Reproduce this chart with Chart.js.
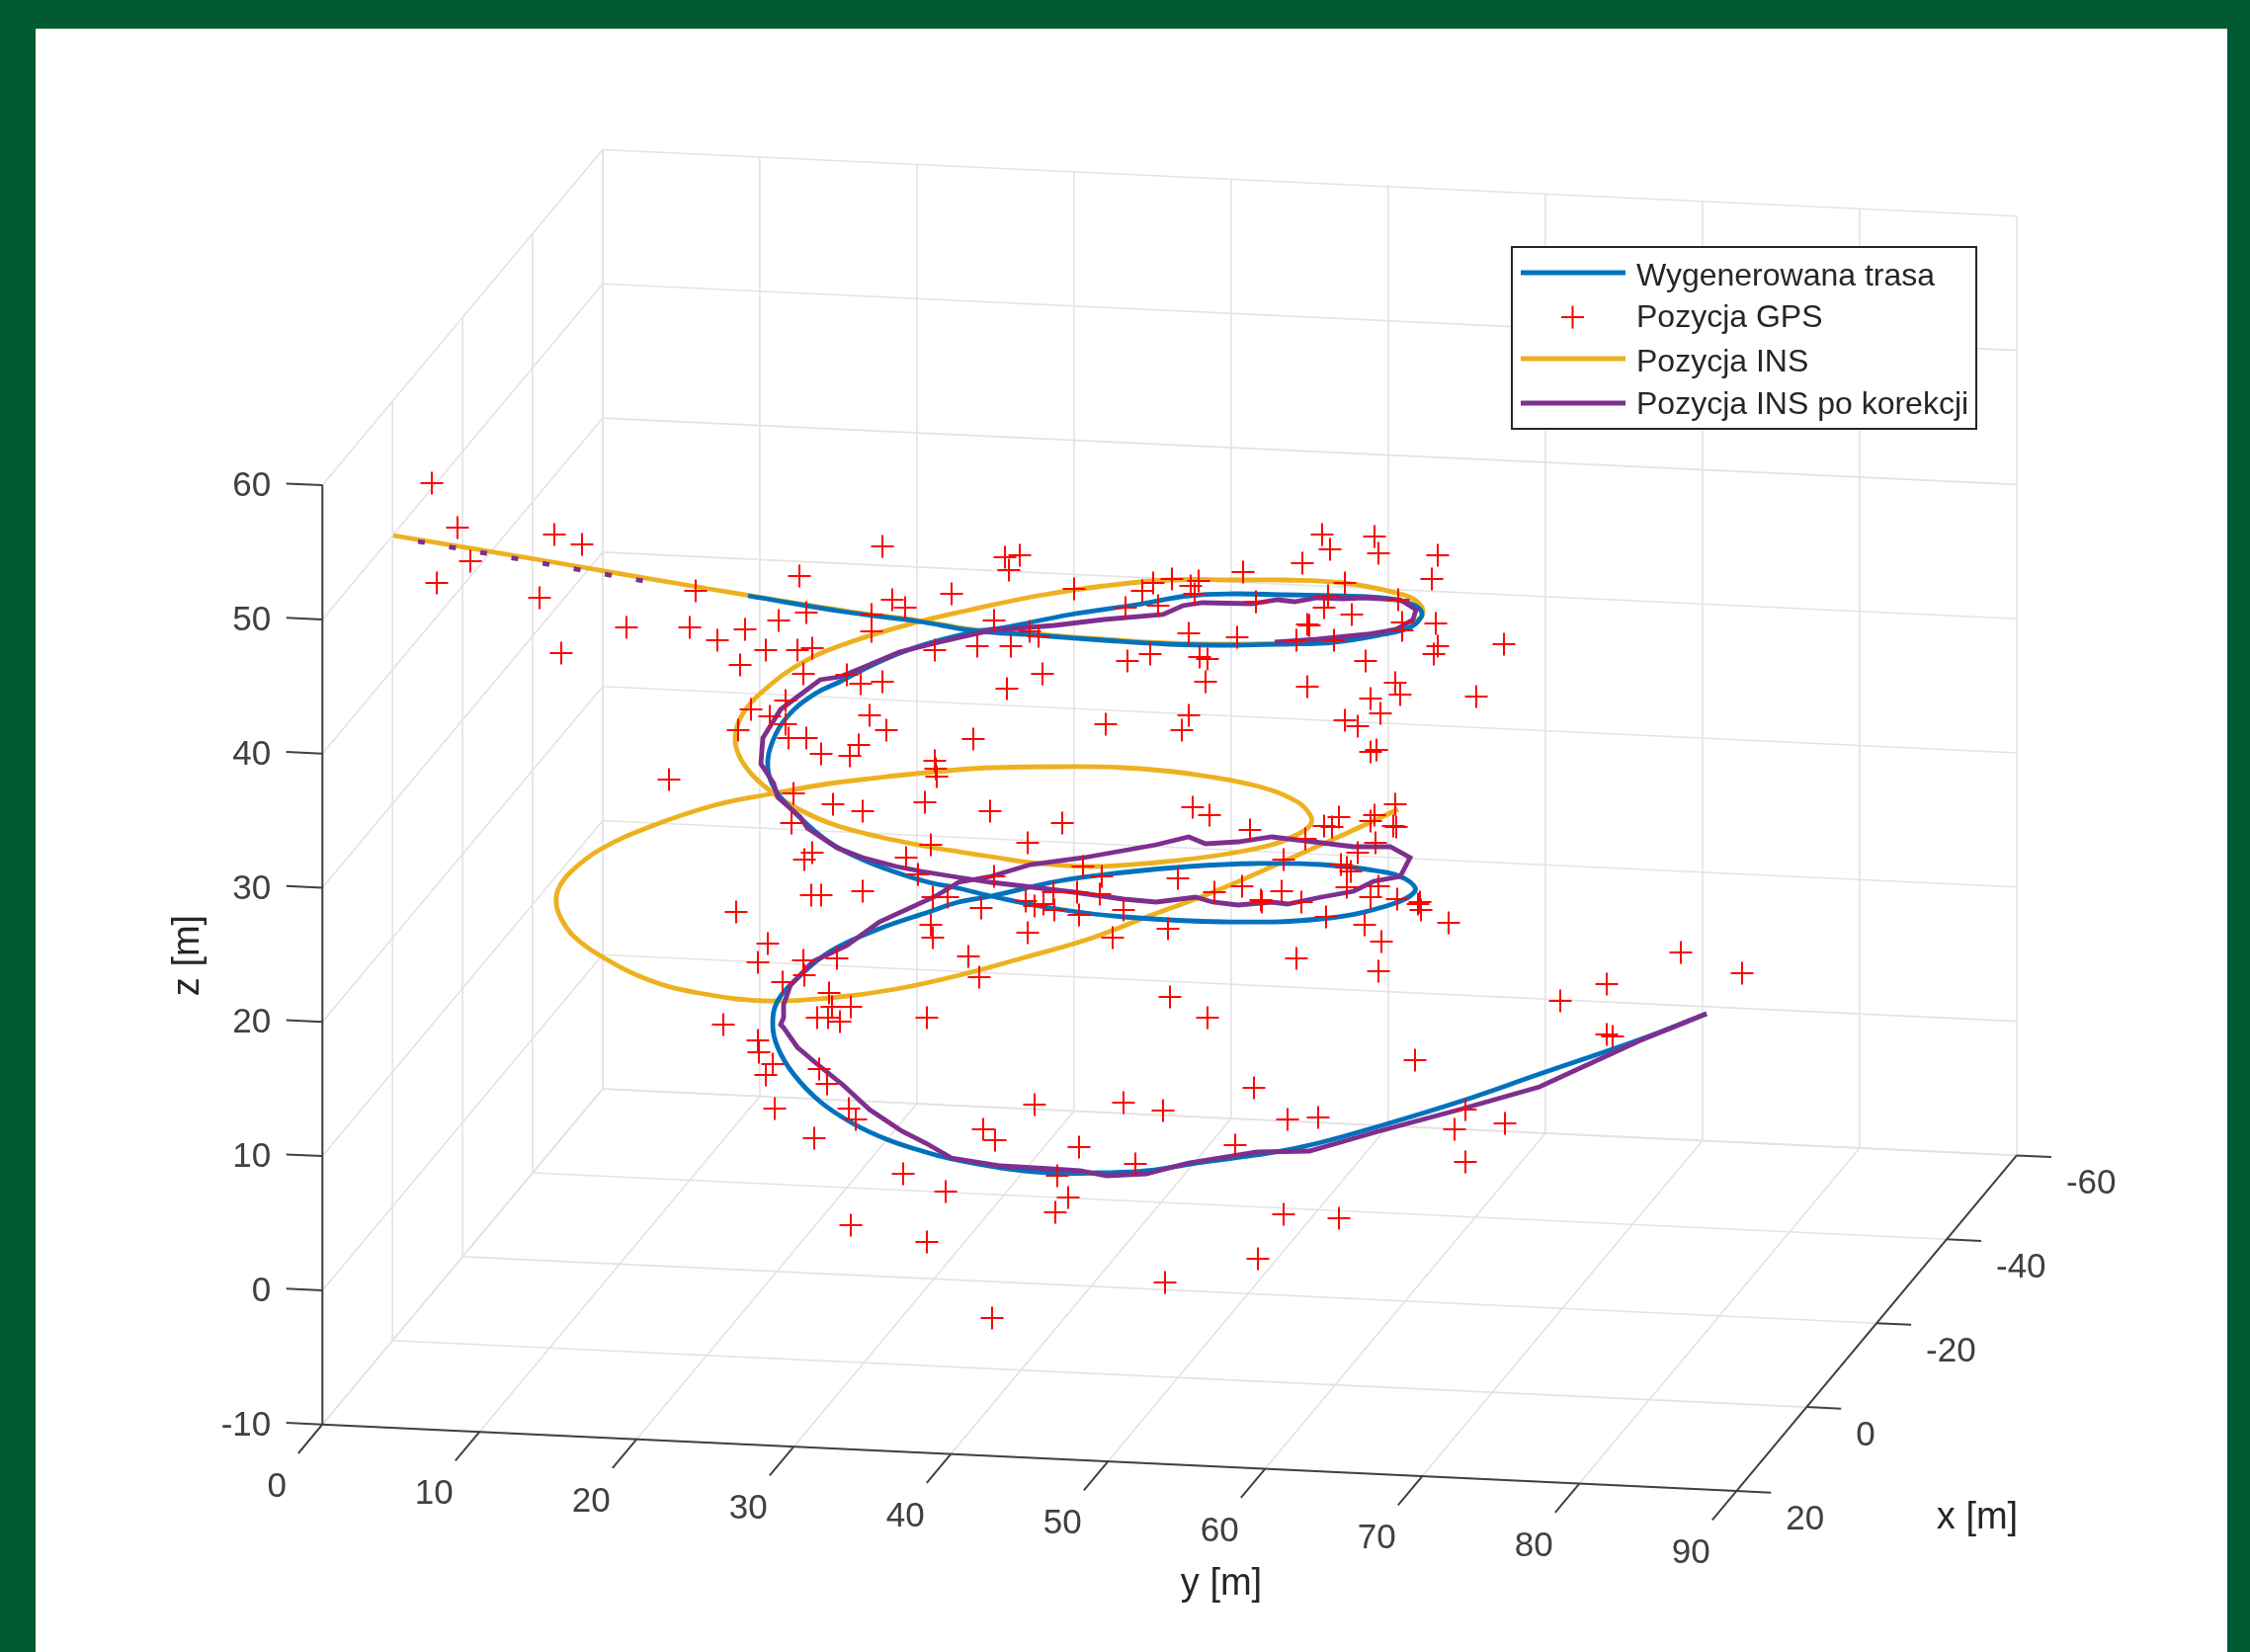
<!DOCTYPE html>
<html>
<head>
<meta charset="utf-8">
<title>Trasa 3D</title>
<script src="https://cdn.jsdelivr.net/npm/chart.js@4/dist/chart.umd.min.js"></script>
<style>
    html, body { margin: 0; padding: 0; background: #005a32; }
    canvas { display: block; }
</style>
</head>
<body>
<canvas id="chart" width="2277" height="1672"></canvas>
<script>
// tick values of the three axes, in metres
var xTicks = [-60, -40, -20, 0, 20];
var yTicks = [0, 10, 20, 30, 40, 50, 60, 70, 80, 90];
var zTicks = [-10, 0, 10, 20, 30, 40, 50, 60];

var seriesNames = ['Wygenerowana trasa', 'Pozycja GPS', 'Pozycja INS', 'Pozycja INS po korekcji'];

// traces, on the view plane of the 3D plot
var routeTrace = [
    [398,542],[560,570],[700,594],[757,603],[860,620],[930,629],[983,638],[1050,643],[1117,648],[1183,652],
    [1250,653],[1300,652],[1350,650],[1400,642],[1427,635],[1438,625],[1438,618],[1430,612],[1413,607],[1383,604],
    [1350,603],[1300,602],[1250,601],[1203,603],[1150,612],[1083,622],[1017,635],[983,640],[927,655],[883,673],
    [850,690],[825,702],[797,725],[782,750],[777,777],[785,800],[807,825],[840,853],[873,870],[907,883],
    [940,893],[970,899],[1003,907],[1070,920],[1137,928],[1237,933],[1337,930],[1403,917],[1432,902],[1423,890],
    [1397,882],[1337,875],[1270,874],[1203,877],[1137,883],[1070,892],[1003,907],[970,913],[940,923],[890,940],
    [840,963],[807,990],[787,1013],[782,1037],[787,1060],[803,1087],[830,1115],[863,1137],[897,1153],[930,1164],
    [963,1173],[1013,1182],[1063,1187],[1113,1187],[1160,1185],[1211,1177],[1285,1167],[1334,1157],[1395,1140],
    [1477,1115],[1558,1087],[1660,1052],[1727,1026]
];
var insTrace = [
    [398,542],[560,569],[700,593],[860,619],[930,628],[983,637],[1050,642],[1117,647],[1183,651],[1250,652],
    [1300,651],[1350,649],[1400,640],[1430,630],[1440,620],[1433,608],[1413,600],[1360,590],[1300,587],[1250,587],
    [1183,587],[1117,593],[1050,603],[983,617],[927,630],[860,650],[813,670],[775,697],[752,722],[744,745],
    [748,765],[762,785],[783,803],[810,820],[845,835],[890,847],[940,857],[970,862],[1003,867],[1043,873],
    [1103,877],[1170,873],[1237,865],[1287,855],[1312,845],[1326,835],[1326,825],[1312,811],[1270,795],[1203,783],
    [1137,777],[1070,776],[1003,777],[970,779],[907,785],[840,793],[783,803],[723,815],[657,837],[607,860],
    [577,883],[565,900],[563,915],[568,930],[580,947],[607,967],[657,992],[707,1005],[773,1013],[840,1010],
    [907,1001],[975,986],[1037,969],[1103,950],[1163,927],[1230,902],[1303,870],[1370,840],[1415,819]
];
var correctedTrace = [
    [398,542],[423,548],[663,590],[700,596],[860,620],[983,638],[1183,651],[1290,650],[1333,647],[1383,642],
    [1413,637],[1430,627],[1433,617],[1417,607],[1380,605],[1360,606],[1333,605],[1310,609],[1293,607],[1267,611],
    [1217,610],[1197,613],[1177,622],[1117,627],[1067,633],[1003,638],[950,650],[910,660],[870,677],[850,685],
    [830,688],[810,703],[790,718],[772,747],[770,773],[783,793],[787,807],[810,827],[817,838],[847,858],
    [873,868],[907,877],[933,882],[970,888],[1003,893],[1037,897],[1087,903],[1137,910],[1170,913],[1210,908],
    [1227,913],[1253,916],[1287,913],[1303,915],[1337,908],[1370,902],[1390,892],[1417,887],[1427,868],[1407,857],
    [1370,857],[1337,853],[1287,847],[1253,852],[1220,854],[1203,847],[1170,855],[1097,868],[1043,875],[1003,887],
    [970,893],[947,907],[890,933],[857,957],[823,973],[800,997],[793,1017],[793,1030],[790,1037],[793,1040],
    [807,1060],[827,1077],[853,1098],[880,1123],[913,1145],[937,1157],[963,1172],[1013,1180],[1063,1183],[1093,1185],
    [1120,1190],[1160,1188],[1203,1177],[1272,1166],[1325,1165],[1395,1145],[1477,1123],[1558,1100],[1660,1053],[1727,1026]
];
var gpsPoints = [
    [437,489],[463,534],[476,568],[442,590],[561,541],[589,551],[546,605],[568,661],[634,635],[704,598],
    [698,635],[726,648],[754,637],[788,628],[809,583],[816,620],[775,658],[749,673],[807,658],[822,656],
    [813,682],[857,683],[795,709],[760,718],[779,725],[795,733],[747,739],[798,747],[816,747],[831,763],
    [860,765],[893,553],[903,607],[916,615],[963,601],[882,622],[882,639],[1017,564],[1032,562],[1021,577],
    [1006,628],[1087,596],[1156,598],[1167,590],[1186,586],[1205,593],[1213,588],[1209,601],[1258,579],[1318,570],
    [1139,615],[1172,613],[1271,609],[1042,639],[1051,644],[1203,641],[1252,645],[1312,648],[1323,632],[946,658],
    [989,654],[1023,654],[1055,682],[1019,697],[1141,669],[1164,662],[1214,665],[1222,667],[1220,690],[1323,695],
    [871,692],[893,690],[880,724],[897,739],[985,748],[1119,733],[1203,724],[1196,739],[869,754],[946,770],
    [1338,541],[1346,556],[1391,543],[1395,560],[1455,562],[1449,586],[1361,590],[1344,603],[1340,615],[1415,607],
    [1368,622],[1325,633],[1419,630],[1419,638],[1453,631],[1350,648],[1455,654],[1451,662],[1522,652],[1382,669],
    [1412,691],[1417,703],[1387,707],[1397,722],[1494,705],[1361,729],[1374,735],[1387,761],[1393,759],[677,789],
    [803,803],[843,814],[873,821],[936,812],[947,778],[948,786],[801,833],[822,863],[814,870],[917,868],
    [942,855],[821,906],[831,906],[873,902],[929,885],[944,908],[959,908],[745,923],[942,936],[944,949],
    [777,955],[767,974],[813,972],[814,987],[847,970],[792,994],[980,968],[839,1005],[861,1019],[842,1019],
    [827,1030],[850,1034],[838,1030],[938,1030],[732,1037],[767,1053],[1002,821],[1075,833],[1040,853],[1207,817],
    [1224,825],[1265,840],[1340,836],[1355,827],[1348,837],[1391,825],[1387,831],[1412,814],[1413,837],[1410,836],
    [1321,849],[1392,853],[1374,863],[1299,870],[1357,875],[1363,878],[1367,882],[1096,877],[1006,887],[1115,887],
    [1192,889],[1363,898],[1257,897],[1229,903],[1066,903],[1090,903],[1113,905],[1297,902],[1395,897],[1387,908],
    [1414,910],[1276,911],[1277,913],[1317,913],[1342,928],[1038,912],[1047,917],[1067,921],[1056,915],[993,919],
    [1137,921],[1092,926],[1437,913],[1435,915],[1438,921],[1466,934],[1381,936],[1398,953],[1182,940],[1126,949],
    [1040,944],[991,989],[1312,970],[1395,983],[1184,1009],[1222,1030],[768,1065],[782,1077],[775,1088],[829,1082],
    [837,1097],[784,1122],[859,1122],[866,1133],[824,1152],[1047,1118],[1137,1116],[995,1143],[1007,1154],[1092,1161],
    [1149,1178],[914,1188],[957,1206],[1070,1190],[1081,1212],[1068,1227],[861,1240],[938,1257],[1004,1334],[1701,964],
    [1763,985],[1626,996],[1579,1013],[1626,1047],[1632,1049],[1432,1073],[1269,1101],[1177,1124],[1303,1133],[1334,1131],
    [1250,1159],[1483,1123],[1472,1143],[1523,1137],[1483,1176],[1299,1229],[1355,1233],[1273,1274],[1179,1298]
];

var BLUE = '#0072bd';
var ORANGE = '#edb120';
var PURPLE = '#7e2f8e';
var RED = '#ff0000';
var GRID = '#e3e3e3';
var AXIS = '#404040';
var HIDDEN = 'rgba(0,0,0,0)';

var font = '"Liberation Sans", Arial, sans-serif';

// orthographic view of the MATLAB axes box
function project(x, y, z) {
    return {
        x: 326.3 + 15.9 * y - 3.545 * (x - 20),
        y: 1441.7 + 0.748 * y + 4.245 * (x - 20) - 13.58 * (z + 10),
    };
}

function toPoints(pairs) {
    return pairs.map(function (p) { return { x: p[0], y: p[1] }; });
}

function lineSet(points, color, width, order) {
    return {
        data: points,
        showLine: true,
        borderColor: color,
        borderWidth: width,
        pointRadius: 0,
        order: order,
    };
}

var xMin = xTicks[0], xMax = xTicks[xTicks.length - 1];
var yMin = yTicks[0], yMax = yTicks[yTicks.length - 1];
var zMin = zTicks[0], zMax = zTicks[zTicks.length - 1];

var datasets = [];

// grid on the floor, the back wall and the left wall
xTicks.forEach(function (x) {
    datasets.push(lineSet([project(x, yMax, zMin), project(x, yMin, zMin), project(x, yMin, zMax)], GRID, 1.6, 20));
});
yTicks.forEach(function (y) {
    datasets.push(lineSet([project(xMax, y, zMin), project(xMin, y, zMin), project(xMin, y, zMax)], GRID, 1.6, 20));
});
zTicks.forEach(function (z) {
    datasets.push(lineSet([project(xMax, yMin, z), project(xMin, yMin, z), project(xMin, yMax, z)], GRID, 1.6, 20));
});

// axis lines and tick marks
datasets.push(lineSet([project(xMax, yMin, zMin), project(xMax, yMin, zMax)], AXIS, 2, 10));
datasets.push(lineSet([project(xMax, yMin, zMin), project(xMax, yMax, zMin)], AXIS, 2, 10));
datasets.push(lineSet([project(xMax, yMax, zMin), project(xMin, yMax, zMin)], AXIS, 2, 10));
zTicks.forEach(function (z) {
    datasets.push(lineSet([project(xMax, yMin, z), project(xMax, yMin - 2.3, z)], AXIS, 2, 10));
});
yTicks.forEach(function (y) {
    datasets.push(lineSet([project(xMax, y, zMin), project(xMax + 6.9, y, zMin)], AXIS, 2, 10));
});
xTicks.forEach(function (x) {
    datasets.push(lineSet([project(x, yMax, zMin), project(x, yMax + 2.2, zMin)], AXIS, 2, 10));
});

// the traces: on the first stretch they coincide, only INS shows there
var insSet = lineSet(toPoints(insTrace), ORANGE, 4.8, 5);
insSet.tension = 0.4;
datasets.push(insSet);

var routeSet = lineSet(toPoints(routeTrace), BLUE, 4.8, 4);
routeSet.tension = 0.4;
routeSet.segment = {
    borderColor: function (ctx) { return ctx.p0DataIndex < 3 ? HIDDEN : undefined; },
};
datasets.push(routeSet);

var correctedSet = lineSet(toPoints(correctedTrace), PURPLE, 4.8, 3);
correctedSet.segment = {
    borderColor: function (ctx) {
        return ctx.p0DataIndex === 0 || (ctx.p0DataIndex > 1 && ctx.p0DataIndex < 7) ? HIDDEN : undefined;
    },
    borderDash: function (ctx) { return ctx.p0DataIndex === 1 ? [7, 25] : undefined; },
};
datasets.push(correctedSet);

datasets.push({
    data: toPoints(gpsPoints),
    showLine: false,
    pointStyle: 'cross',
    pointRadius: 11.5,
    pointBorderWidth: 2,
    pointBorderColor: RED,
    order: 1,
});

// white sheet inside the dark green frame
var sheetPlugin = {
    id: 'sheet',
    beforeDraw: function (chart) {
        var ctx = chart.ctx;
        ctx.save();
        ctx.fillStyle = '#ffffff';
        ctx.fillRect(36, 29, 2218, 1643);
        ctx.restore();
    },
};

var labelPlugin = {
    id: 'axisLabels',
    afterDraw: function (chart) {
        var ctx = chart.ctx;
        ctx.save();
        ctx.fillStyle = '#404040';
        ctx.font = '35px ' + font;
        ctx.textBaseline = 'middle';

        ctx.textAlign = 'right';
        zTicks.forEach(function (z) {
            var p = project(xMax, yMin, z);
            ctx.fillText(String(z), p.x - 52, p.y + 1.5);
        });
        ctx.textAlign = 'center';
        yTicks.forEach(function (y) {
            var p = project(xMax, y, zMin);
            ctx.fillText(String(y), p.x - 46, p.y + 63.5);
        });
        ctx.textAlign = 'left';
        xTicks.forEach(function (x) {
            var p = project(x, yMax, zMin);
            ctx.fillText(String(x), p.x + 50, p.y + 29);
        });

        ctx.font = '38px ' + font;
        ctx.fillStyle = '#262626';
        ctx.textAlign = 'center';
        ctx.fillText('y [m]', 1236, 1604);
        ctx.fillText('x [m]', 2001, 1537);
        ctx.translate(191, 967);
        ctx.rotate(-Math.PI / 2);
        ctx.fillText('z [m]', 0, 0);
        ctx.restore();
    },
};

var legendPlugin = {
    id: 'boxLegend',
    afterDraw: function (chart) {
        var ctx = chart.ctx;
        var rows = [276, 321, 363, 408];
        var textRows = [280, 322, 367, 410];
        var colors = [BLUE, RED, ORANGE, PURPLE];
        ctx.save();
        ctx.fillStyle = '#ffffff';
        ctx.strokeStyle = '#262626';
        ctx.lineWidth = 2;
        ctx.fillRect(1530, 250, 470, 184);
        ctx.strokeRect(1530, 250, 470, 184);
        ctx.font = '32px ' + font;
        ctx.textBaseline = 'middle';
        ctx.textAlign = 'left';
        seriesNames.forEach(function (name, i) {
            ctx.strokeStyle = colors[i];
            ctx.beginPath();
            if (i === 1) {
                ctx.lineWidth = 2;
                ctx.moveTo(1580, rows[i]);
                ctx.lineTo(1603, rows[i]);
                ctx.moveTo(1591.5, rows[i] - 11.5);
                ctx.lineTo(1591.5, rows[i] + 11.5);
            } else {
                ctx.lineWidth = 4.8;
                ctx.moveTo(1539, rows[i]);
                ctx.lineTo(1645, rows[i]);
            }
            ctx.stroke();
            ctx.fillStyle = '#262626';
            ctx.fillText(name, 1656, textRows[i]);
        });
        ctx.restore();
    },
};

new Chart(document.getElementById('chart'), {
    type: 'scatter',
    data: { datasets: datasets },
    plugins: [sheetPlugin, labelPlugin, legendPlugin],
    options: {
        responsive: false,
        animation: false,
        events: [],
        layout: { padding: 0, autoPadding: false },
        scales: {
            x: { type: 'linear', min: 0, max: 2277, display: false },
            y: { type: 'linear', min: 0, max: 1672, reverse: true, display: false },
        },
        plugins: {
            legend: { display: false },
            tooltip: { enabled: false },
        },
    },
});
</script>
</body>
</html>
